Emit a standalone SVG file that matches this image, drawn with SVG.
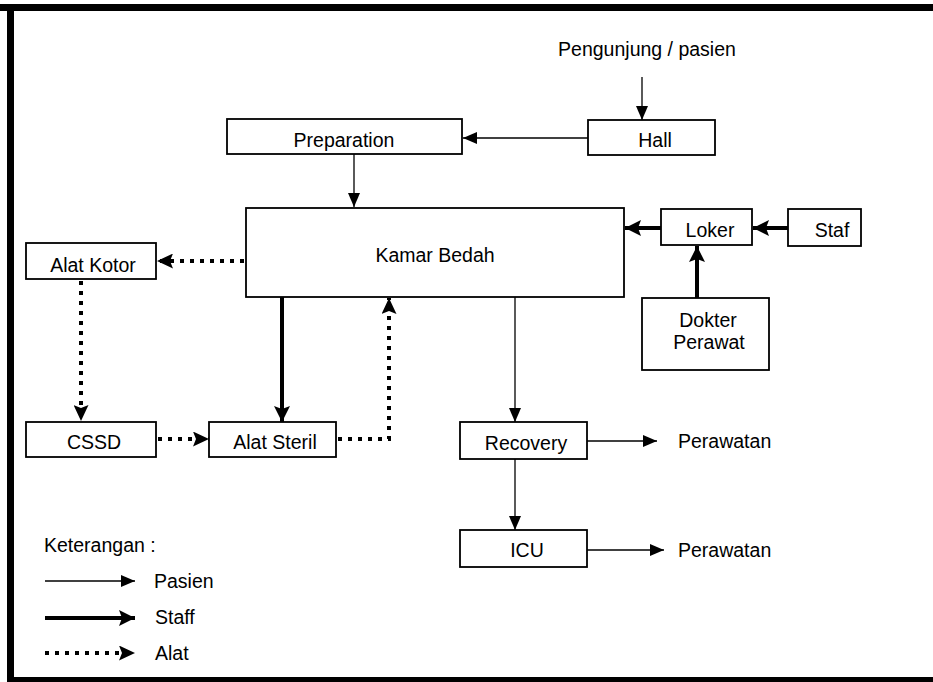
<svg xmlns="http://www.w3.org/2000/svg" width="933" height="682" viewBox="0 0 933 682">
  <style>
    .box { fill: #fff; stroke: #000; stroke-width: 1.8; }
    .lbl { font-family: "Liberation Sans", Arial, sans-serif; font-size: 19.5px; fill: #000; }
    .mid { text-anchor: middle; }
    .pasien { fill: none; stroke: #000; stroke-width: 1.3; }
    .staff { fill: none; stroke: #000; stroke-width: 4; }
    .alat { fill: none; stroke: #000; stroke-width: 4; stroke-dasharray: 4 6; }
  </style>
  <defs>
    <marker id="ahThin" markerUnits="userSpaceOnUse" markerWidth="14" markerHeight="12" refX="14" refY="6" orient="auto">
      <path d="M0,0 L14,6 L0,12 z" fill="#000"/>
    </marker>
    <marker id="ahStaff" markerUnits="userSpaceOnUse" markerWidth="16" markerHeight="16" refX="16" refY="8" orient="auto">
      <path d="M0,0 L16,8 L0,16 L3,8 z" fill="#000"/>
    </marker>
    <marker id="ahAlat" markerUnits="userSpaceOnUse" markerWidth="16" markerHeight="15" refX="16" refY="7.5" orient="auto">
      <path d="M0,0 L16,7.5 L0,15 L3,7.5 z" fill="#000"/>
    </marker>
  </defs>

  <!-- page frame -->
  <rect x="0" y="0" width="933" height="682" fill="#fff"/>
  <rect x="0" y="4" width="933" height="7" fill="#000"/>
  <rect x="7" y="4" width="7" height="678" fill="#000"/>
  <rect x="7" y="677" width="926" height="5" fill="#000"/>

  <!-- connectors -->
  <g id="connectors">
    <line class="pasien" x1="642" y1="77" x2="642" y2="120" marker-end="url(#ahThin)"/>
    <line class="pasien" x1="588" y1="138" x2="463" y2="138" marker-end="url(#ahThin)"/>
    <line class="pasien" x1="354" y1="154" x2="354" y2="207" marker-end="url(#ahThin)"/>
    <line class="pasien" x1="515" y1="297" x2="515" y2="422" marker-end="url(#ahThin)"/>
    <line class="pasien" x1="515" y1="459" x2="515" y2="530" marker-end="url(#ahThin)"/>
    <line class="pasien" x1="587" y1="441" x2="657" y2="441" marker-end="url(#ahThin)"/>
    <line class="pasien" x1="587" y1="550" x2="664" y2="550" marker-end="url(#ahThin)"/>

    <line class="staff" x1="788" y1="228" x2="753" y2="228" marker-end="url(#ahStaff)"/>
    <line class="staff" x1="661" y1="228" x2="625" y2="228" marker-end="url(#ahStaff)"/>
    <line class="staff" x1="697" y1="298" x2="697" y2="246" marker-end="url(#ahStaff)"/>
    <line class="staff" x1="282" y1="297" x2="282" y2="422" marker-end="url(#ahStaff)"/>

    <line class="alat" x1="244" y1="261" x2="157" y2="261" marker-end="url(#ahAlat)"/>
    <line class="alat" x1="81" y1="281" x2="81" y2="421" marker-end="url(#ahAlat)"/>
    <line class="alat" x1="158" y1="439" x2="209" y2="439" marker-end="url(#ahAlat)"/>
    <polyline class="alat" points="338,439 389,439 389,298" marker-end="url(#ahAlat)"/>
  </g>

  <!-- nodes -->
  <g id="pengunjung">
    <text class="lbl mid" x="647" y="56">Pengunjung / pasien</text>
  </g>
  <g id="hall">
    <rect class="box" x="588" y="120" width="127" height="35"/>
    <text class="lbl mid" x="655" y="147">Hall</text>
  </g>
  <g id="preparation">
    <rect class="box" x="227" y="119" width="235" height="35"/>
    <text class="lbl mid" x="344" y="147">Preparation</text>
  </g>
  <g id="kamar-bedah">
    <rect class="box" x="246" y="208" width="378" height="89"/>
    <text class="lbl mid" x="435" y="262">Kamar Bedah</text>
  </g>
  <g id="loker">
    <rect class="box" x="661" y="209" width="91" height="36"/>
    <text class="lbl mid" x="710" y="237">Loker</text>
  </g>
  <g id="staf">
    <rect class="box" x="788" y="209" width="73" height="37"/>
    <text class="lbl mid" x="832" y="237">Staf</text>
  </g>
  <g id="dokter-perawat">
    <rect class="box" x="642" y="298" width="127" height="72"/>
    <text class="lbl mid" x="708" y="327">Dokter</text>
    <text class="lbl mid" x="709" y="349">Perawat</text>
  </g>
  <g id="alat-kotor">
    <rect class="box" x="26" y="243" width="130" height="36"/>
    <text class="lbl mid" x="93" y="272">Alat Kotor</text>
  </g>
  <g id="cssd">
    <rect class="box" x="26" y="422" width="130" height="35"/>
    <text class="lbl mid" x="94" y="449">CSSD</text>
  </g>
  <g id="alat-steril">
    <rect class="box" x="209" y="422" width="127" height="35"/>
    <text class="lbl mid" x="275" y="449">Alat Steril</text>
  </g>
  <g id="recovery">
    <rect class="box" x="460" y="422" width="127" height="37"/>
    <text class="lbl mid" x="526" y="450">Recovery</text>
  </g>
  <g id="icu">
    <rect class="box" x="460" y="530" width="127" height="37"/>
    <text class="lbl mid" x="527" y="557">ICU</text>
  </g>
  <g id="perawatan-1">
    <text class="lbl" x="678" y="448">Perawatan</text>
  </g>
  <g id="perawatan-2">
    <text class="lbl" x="678" y="557">Perawatan</text>
  </g>

  <!-- legend -->
  <g id="legend">
    <text class="lbl" x="44" y="552">Keterangan :</text>
    <line class="pasien" x1="45" y1="581" x2="135" y2="581" marker-end="url(#ahThin)"/>
    <text class="lbl" x="154" y="588">Pasien</text>
    <line class="staff" x1="45" y1="618" x2="135" y2="618" marker-end="url(#ahStaff)"/>
    <text class="lbl" x="155" y="624">Staff</text>
    <line class="alat" x1="45" y1="653" x2="135" y2="653" marker-end="url(#ahAlat)"/>
    <text class="lbl" x="155" y="660">Alat</text>
  </g>
</svg>
